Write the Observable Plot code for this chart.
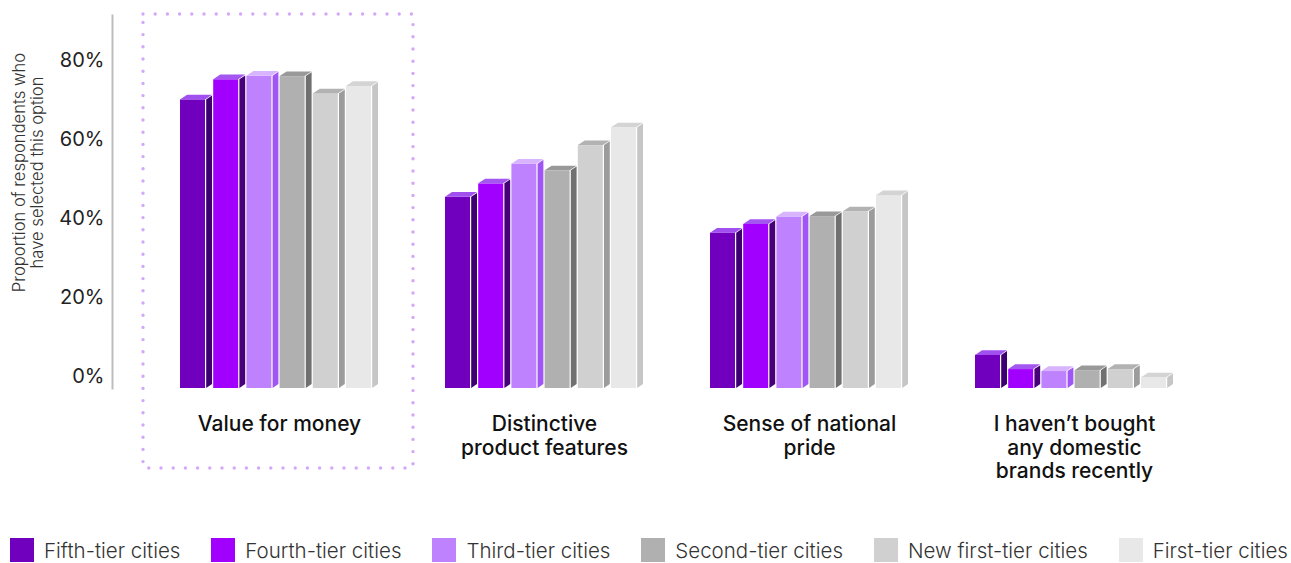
<!DOCTYPE html>
<html>
<head>
<meta charset="utf-8">
<script src="https://cdn.jsdelivr.net/npm/d3@7"></script>
<script src="https://cdn.jsdelivr.net/npm/@observablehq/plot@0.6"></script>
<style>
  body { margin: 0; background: #fff; font-family: Inter, Roboto, "Noto Sans", sans-serif; }
  #legend { display: flex; justify-content: space-between; align-items: center; padding: 0 3px 0 10px; margin-top: 8px; height: 24px; }
  .item { display: flex; align-items: center; font-size: 20.5px; font-weight: 300; color: #333; white-space: nowrap; }
  .sw { width: 24px; height: 24px; margin-right: 10px; flex: none; }
</style>
</head>
<body>
<div id="chart"></div>
<div id="legend"></div>
<script>
// ---- data ----
const categories = [
  "Value for money",
  "Distinctive product features",
  "Sense of national pride",
  "I haven’t bought any domestic brands recently"
];
const categoryLabels = [
  "Value for money",
  "Distinctive\nproduct features",
  "Sense of national\npride",
  "I haven’t bought\nany domestic\nbrands recently"
];
const tiers = [
  "Fifth-tier cities",
  "Fourth-tier cities",
  "Third-tier cities",
  "Second-tier cities",
  "New first-tier cities",
  "First-tier cities"
];
const fifthTier    = [73.2, 48.5, 39.4, 8.4];
const fourthTier   = [78.3, 51.9, 41.6, 4.8];
const thirdTier    = [79.2, 56.9, 43.5, 4.3];
const secondTier   = [79.1, 55.2, 43.6, 4.5];
const newFirstTier = [74.7, 61.6, 44.8, 4.8];
const firstTier    = [76.6, 66.1, 48.9, 2.7];
const yTicks = [0, 20, 40, 60, 80];
const yTitle = "Proportion of respondents who\nhave selected this option";
const highlighted = "Value for money";

// ---- styles ----
const frontColors = ["#7000BE", "#A100FF", "#BE82FF", "#B0B0B0", "#D0D0D0", "#E8E8E8"];
const sideColors  = ["#3C0070", "#470078", "#A055F5", "#707070", "#9C9C9C", "#C6C6C6"];
const topColors   = ["#A050EE", "#A456F0", "#D8B4FF", "#999999", "#B2B2B2", "#D4D4D4"];

const seriesValues = [fifthTier, fourthTier, thirdTier, secondTier, newFirstTier, firstTier];
const rows = [];
tiers.forEach((t, ti) => categories.forEach((c, ci) => rows.push({category: c, tier: t, ti, value: seriesValues[ti][ci]})));

const W = 1291, H = 530;
const mL = 112, mR = 50, mT = 15, mB = 142;
const pInner = 0.251, pOuter = 0.248;
const step = (W - mL - mR) / (categories.length - pInner + 2 * pOuter);
const bw = step * (1 - pInner);
const slot = bw / tiers.length;
const depthX = 7, depthY = 4.7;
const frontW = slot - depthX;

const marks = [];
tiers.forEach((t, i) => {
  const data = rows.filter(r => r.ti === i);
  marks.push(Plot.barY(data, {x: "category", y: "value", fill: frontColors[i],
    insetLeft: slot * i, insetRight: bw - slot * i - frontW}));
  marks.push(Plot.barY(data, {x: "category", y: "value", fill: sideColors[i],
    insetLeft: slot * i + frontW, insetRight: bw - slot * (i + 1)}));
  marks.push(Plot.barY(data, {x: "category", y1: "value", y2: "value", fill: topColors[i],
    insetLeft: slot * i, insetRight: bw - slot * i - frontW, insetTop: -depthY}));
});

const yMax = 94.6;
const chart = Plot.plot({
  width: W, height: H,
  marginLeft: mL, marginRight: mR, marginTop: mT, marginBottom: mB,
  style: {display: "block", fontFamily: "Inter, Roboto, 'Noto Sans', sans-serif", background: "#fff"},
  x: {domain: categories, paddingInner: pInner, paddingOuter: pOuter, axis: null},
  y: {domain: [0, yMax], axis: null},
  marks: [
    Plot.frame({anchor: "left", stroke: "#bdbdbd", strokeWidth: 2}),
    Plot.barY([highlighted], {x: d => d, y1: 0, y2: yMax, fill: "none", stroke: "#D4A8F8",
      strokeWidth: 3.4, strokeDasharray: "0 12.2", strokeLinecap: "round",
      insetLeft: -37, insetRight: -35, insetTop: -1, insetBottom: -80}),
    ...marks,
    Plot.text(yTicks, {y: d => d, text: d => d + "%", frameAnchor: "left", dx: -8, dy: -12,
      textAnchor: "end", fontSize: 20, fill: "#222"}),
    Plot.text([yTitle], {text: d => d, frameAnchor: "left", dx: -84.5, dy: -29.5, rotate: -90,
      textAnchor: "middle", fontSize: 16.6, fontWeight: 300, fill: "#333", lineHeight: 1.1}),
    Plot.text(categories, {x: d => d, text: (d, i) => categoryLabels[i], frameAnchor: "bottom",
      lineAnchor: "top", dy: 26, fontSize: 21, fontWeight: 500, fill: "#111", lineHeight: 1.12})
  ]
});

// give the side and top faces their 3D slant
const skY = Math.atan2(-depthY, depthX) * 180 / Math.PI;
const skX = Math.atan2(-depthX, depthY) * 180 / Math.PI;
sideColors.forEach(c => {
  chart.querySelectorAll(`g[fill="${c}"] rect`).forEach(r => {
    const x0 = +r.getAttribute("x");
    r.setAttribute("transform", `translate(${x0},0) skewY(${skY}) translate(${-x0},0)`);
  });
});
topColors.forEach(c => {
  chart.querySelectorAll(`g[fill="${c}"] rect`).forEach(r => {
    const yb = +r.getAttribute("y") + +r.getAttribute("height");
    r.setAttribute("transform", `translate(0,${yb}) skewX(${skX}) translate(0,${-yb})`);
  });
});
document.getElementById("chart").appendChild(chart);

// legend
const legend = d3.select("#legend");
tiers.forEach((t, i) => {
  const it = legend.append("div").attr("class", "item");
  it.append("div").attr("class", "sw").style("background", frontColors[i]);
  it.append("span").text(t);
});
</script>
</body>
</html>
